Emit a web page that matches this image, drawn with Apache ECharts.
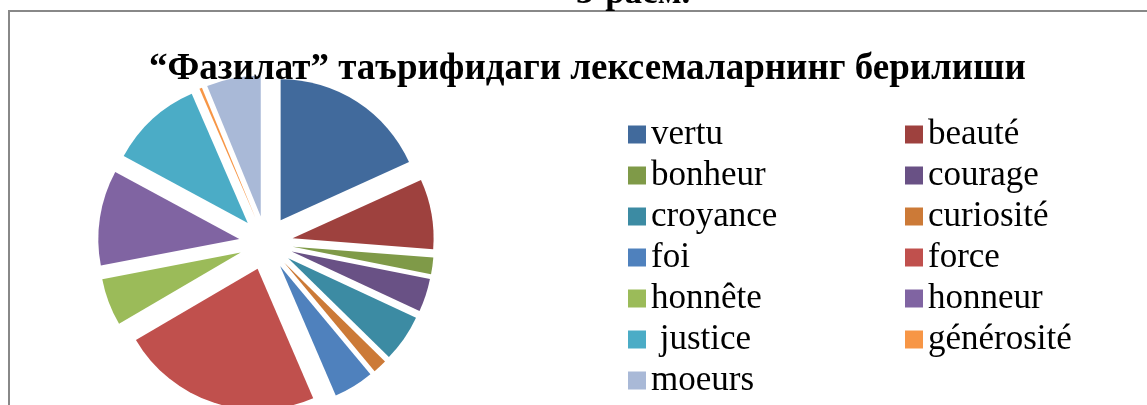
<!DOCTYPE html>
<html>
<head>
<meta charset="utf-8">
<script src="https://cdn.jsdelivr.net/npm/echarts@6/dist/echarts.min.js"></script>
<style>html,body{margin:0;padding:0;background:#fff;}#c{width:1147px;height:405px;}</style>
</head>
<body>
<div id="c"></div>
<script>
const categories = ["vertu","beauté","bonheur","courage","croyance","curiosité","foi","force","honnête","honneur"," justice","générosité","moeurs"];
const values = [18.2, 8.0, 1.9, 3.8, 5.4, 1.6, 4.6, 23.0, 5.4, 10.9, 10.6, 0.3, 6.2];
const colors = ["#416A9C","#9E413E","#7F9A48","#695185","#3C8BA3","#CC7A37","#4F81BD","#C0504D","#9BBB59","#8064A2","#4BACC6","#F79646","#A9B9D7"];
const leftLegend = ["vertu","bonheur","croyance","foi","honnête"," justice","moeurs"];
const rightLegend = ["beauté","courage","curiosité","force","honneur","générosité"];
const titleText = "“Фазилат” таърифидаги лексемаларнинг берилиши";
const captionText = "3-расм.";

const serif = '"Liberation Serif","Times New Roman",serif';
const chart = echarts.init(document.getElementById('c'), null, {renderer:'canvas'});
const legendCommon = {
  orient: 'vertical', itemWidth: 18, itemHeight: 18, itemGap: 6, icon: 'rect',
  selectedMode: false, height: 400,
  textStyle: {fontFamily: serif, fontSize: 35, color: '#000', padding: [0,0,0,0]}
};
chart.setOption({
  animation: false,
  color: colors,
  title: [
    {text: titleText, left: 149, top: 49, padding: 0,
     textStyle: {fontFamily: serif, fontWeight: 'bold', fontSize: 37, lineHeight: 40, color: '#000'}},
    {text: captionText, left: 576, top: -26, padding: 0,
     textStyle: {fontFamily: serif, fontWeight: 'bold', fontSize: 35, lineHeight: 40, color: '#000'}}
  ],
  legend: [
    Object.assign({data: leftLegend, left: 623, top: 112}, legendCommon),
    Object.assign({data: rightLegend, left: 900, top: 112}, legendCommon)
  ],
  graphic: [{
    type: 'rect', z: -1, silent: true,
    shape: {x: 9, y: 11, width: 1200, height: 500},
    style: {fill: 'none', stroke: '#888888', lineWidth: 2}
  }],
  series: [{
    type: 'pie',
    center: [266, 243],
    radius: 141,
    startAngle: 90,
    clockwise: true,
    selectedMode: 'multiple',
    selectedOffset: 27,
    label: {show: false},
    labelLine: {show: false},
    emphasis: {disabled: true},
    itemStyle: {borderWidth: 0},
    data: categories.map((c, i) => ({name: c, value: values[i], selected: true}))
  }]
});
</script>
</body>
</html>
